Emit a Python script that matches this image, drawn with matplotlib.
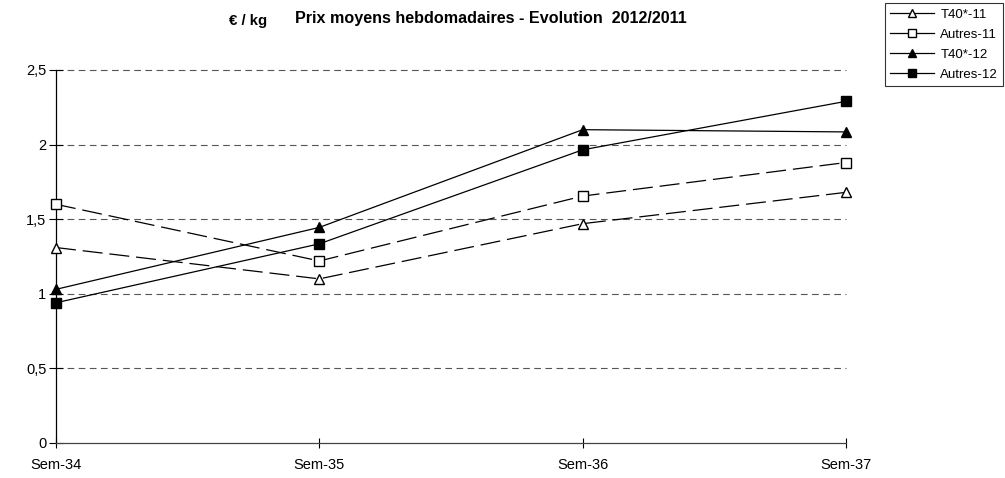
import matplotlib
matplotlib.use("Agg")
import matplotlib.pyplot as plt
from matplotlib.lines import Line2D

plt.rcParams['font.family'] = ['Liberation Sans', 'DejaVu Sans']

categories = ["Sem-34", "Sem-35", "Sem-36", "Sem-37"]
t40_11 = [1.31, 1.10, 1.47, 1.68]
autres_11 = [1.60, 1.22, 1.655, 1.88]
t40_12 = [1.03, 1.445, 2.10, 2.085]
autres_12 = [0.94, 1.335, 1.965, 2.29]
series_names = ["T40*-11", "Autres-11", "T40*-12", "Autres-12"]
yticks = [0, 0.5, 1, 1.5, 2, 2.5]
ytick_labels = ["0", "0,5", "1", "1,5", "2", "2,5"]

fig = plt.figure(figsize=(10.05, 4.78), dpi=100)
ax = fig.add_axes([56/1005, 1-443/478, (846-56)/1005, (443-70)/478])

x = list(range(len(categories)))
dash = (0, (16, 5.5))
ax.plot(x, t40_11, color='black', lw=0.9, linestyle=dash, marker='^', ms=7,
        mfc='white', mec='black', mew=1, zorder=3)
ax.plot(x, autres_11, color='black', lw=0.9, linestyle=dash, marker='s', ms=6.5,
        mfc='white', mec='black', mew=1, zorder=3)
ax.plot(x, t40_12, color='black', lw=0.9, linestyle='-', marker='^', ms=7,
        mfc='black', mec='black', mew=1, zorder=3)
ax.plot(x, autres_12, color='black', lw=0.9, linestyle='-', marker='s', ms=6.5,
        mfc='black', mec='black', mew=1, zorder=3)

ax.set_xlim(0, 3)
ax.set_ylim(0, 2.5)
ax.set_yticks(yticks)
ax.set_yticklabels(ytick_labels, fontsize=10.5)
ax.set_xticks(x)
ax.set_xticklabels(categories, fontsize=10.5)
for y in yticks[1:]:
    ax.axhline(y, color='#555555', lw=0.8, linestyle=(0, (6, 4)), zorder=1)

ax.spines['top'].set_visible(False)
ax.spines['right'].set_visible(False)
ax.spines['left'].set_linewidth(0.9)
ax.spines['bottom'].set_linewidth(0.9)
ax.spines['bottom'].set_color('#444444')
ax.tick_params(axis='y', direction='inout', length=10, width=0.8, pad=2)
ax.tick_params(axis='x', direction='inout', length=7.5, width=0.8, pad=7)
for l in ax.lines:
    l.set_clip_on(False)

fig.text(491/1005, 1-18/478, "Prix moyens hebdomadaires - Evolution  2012/2011",
         ha='center', va='center', fontsize=11.6, fontweight='bold')
fig.text(248/1005, 1-21/478, "€ / kg", ha='center', va='center',
         fontsize=10.8, fontweight='bold')

handles = [
    Line2D([], [], color='black', lw=0.9, marker='^', ms=6, mfc='white', mec='black'),
    Line2D([], [], color='black', lw=0.9, marker='s', ms=6, mfc='white', mec='black'),
    Line2D([], [], color='black', lw=0.9, marker='^', ms=6, mfc='black', mec='black'),
    Line2D([], [], color='black', lw=0.9, marker='s', ms=6, mfc='black', mec='black'),
]
leg = fig.legend(handles, series_names, loc='upper left',
                 bbox_to_anchor=(885/1005, 1-3/478), fontsize=9.5,
                 frameon=True, fancybox=False, edgecolor='black',
                 handlelength=3.3, handletextpad=0.5, borderpad=0.4,
                 labelspacing=0.6, borderaxespad=0)
leg.get_frame().set_linewidth(0.8)

fig.savefig("out.png", dpi=100)
